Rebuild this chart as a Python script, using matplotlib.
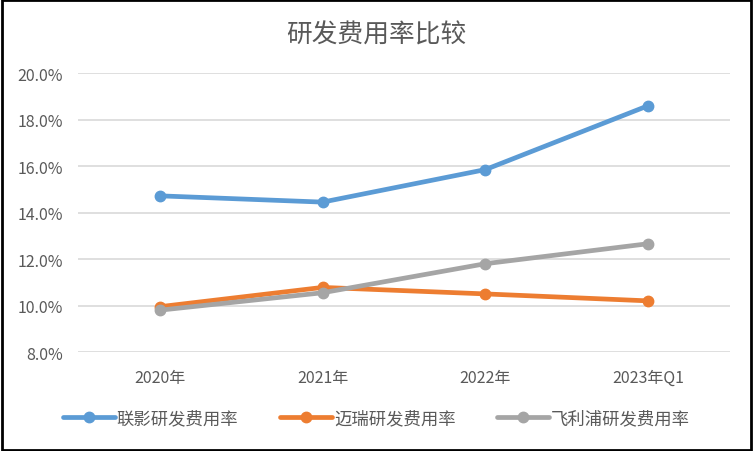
import matplotlib
matplotlib.use("Agg")
import matplotlib.pyplot as plt
from matplotlib.ticker import FuncFormatter

plt.rcParams['font.family'] = ['Noto Sans CJK SC', 'DejaVu Sans']

# data (percent)
categories = ['2020年', '2021年', '2022年', '2023年Q1']
lianying = [14.72, 14.45, 15.85, 18.6]
mairui = [9.95, 10.78, 10.5, 10.2]
feilipu = [9.8, 10.55, 11.8, 12.66]
series_names = ['联影研发费用率', '迈瑞研发费用率', '飞利浦研发费用率']
colors = ['#5B9BD5', '#ED7D31', '#A5A5A5']
TEXT = '#595959'

fig = plt.figure(figsize=(7.53, 4.52), dpi=100)
ax = fig.add_axes([0.104, 0.219, 0.865, 0.617])

x = range(len(categories))
for vals, name, c in zip([lianying, mairui, feilipu], series_names, colors):
    ax.plot(x, vals, color=c, lw=3.4, marker='o', ms=7.5, label=name,
            solid_capstyle='round')

ax.set_xlim(-0.5, len(categories) - 0.5)
ax.set_ylim(8, 20)
ax.set_yticks([8, 10, 12, 14, 16, 18, 20])
ax.yaxis.set_major_formatter(FuncFormatter(lambda v, p: f'{v:.1f}%'))
ax.set_xticks(list(x))
ax.set_xticklabels(categories)
ax.tick_params(length=0, colors=TEXT, labelsize=11.5)
ax.tick_params(axis='x', pad=12)
ax.tick_params(axis='y', pad=11)
ax.grid(axis='y', color='#D9D9D9', lw=1.2)
ax.set_axisbelow(True)
for s in ax.spines.values():
    s.set_visible(False)

fig.text(0.5, 0.922, '研发费用率比较', ha='center', va='center',
         fontsize=18.5, color=TEXT)

fig.legend(loc='center', bbox_to_anchor=(0.5, 0.072), ncol=3, frameon=False,
           fontsize=12.5, labelcolor=TEXT, handlelength=3.0, handletextpad=0.1,
           columnspacing=2.4)

# outer border
fig.patches.append(plt.Rectangle((0.002, 0.003), 0.996, 0.994,
                                 transform=fig.transFigure, fill=False,
                                 ec='black', lw=2))

fig.savefig('out.png', dpi=100)
